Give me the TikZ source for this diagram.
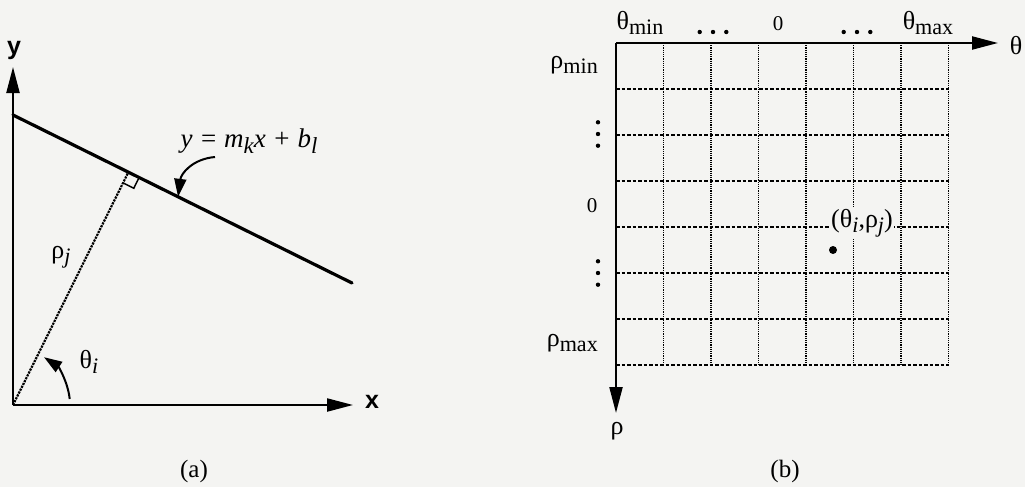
\documentclass[tikz,border=0pt]{standalone}
\usepackage{fontspec}
\setmainfont{Liberation Serif}
\setsansfont{Liberation Sans}
\usetikzlibrary{arrows.meta,calc}
\definecolor{paper}{RGB}{244,244,242}
\newcommand{\lo}[1]{\raisebox{-0.45ex}{\scalebox{0.85}{#1}}}

\begin{document}
\begin{tikzpicture}[x=1pt, y=-1pt,
    axis arrow/.style={-{Triangle[length=26pt, width=13pt]}, line width=2.2pt},
    axis name/.style={font=\fontsize{25}{28}\selectfont\sffamily\bfseries, inner sep=1pt},
    sym label/.style={font=\fontsize{26}{30}\selectfont, inner sep=1pt},
    zero label/.style={font=\fontsize{21}{24}\selectfont, inner sep=1pt},
    caption/.style={font=\fontsize{25}{28}\selectfont},
    pointer/.style={-{Triangle[length=18pt, width=12pt]}, line width=2pt},
    cell v/.style={densely dotted, line width=1.2pt},
    cell h/.style={dash pattern=on 3.5pt off 2pt, line width=1.1pt},
    ellipsis dot/.style={fill, radius=2.2pt},
  ]
  \fill[paper] (0,0) rectangle (1025,487);
  \useasboundingbox (0,0) rectangle (1025,487);

  % (a) the line in the x-y plane
  \coordinate (O) at (13,405);
  \coordinate (ytip) at (13,67);
  \coordinate (xtip) at (353,405);
  \coordinate (lnA) at (13,115);
  \coordinate (lnB) at (352,283);
  \coordinate (F) at ($(lnA)!(O)!(lnB)$);
  \coordinate (sqA) at ($(F)!12pt!(lnB)$);
  \coordinate (sqC) at ($(F)!12pt!(O)$);
  \coordinate (sqB) at ($(sqA)+(sqC)-(F)$);

  \draw[axis arrow] (O) -- (ytip);
  \draw[axis arrow] (O) -- (xtip);
  \node[axis name] (ylab) at (14,50) {y};
  \node[axis name] (xlab) at (372,402) {x};

  \draw[line width=3.2pt, line cap=round] (lnA) -- (lnB);
  \draw[densely dotted, line width=2.2pt] (O) -- (F);
  \draw[line width=1.5pt] (sqA) -- (sqB) -- (sqC);

  \node[sym label] (rho) at (61,257) {ρ\lo{\itshape j}};
  \node[sym label] (theta) at (89,362) {θ\lo{\itshape i}};
  \coordinate (arcS) at (69.7,399);
  \coordinate (arcE) at (44,357.2);
  \draw[pointer] (arcS) .. controls (67.9,381.9) and (58.4,366.6) .. (arcE);

  \node[font=\fontsize{27}{30}\selectfont\itshape] (eq) at (249,141)
    {y = m\lo{k}x + b\lo{l}};
  \coordinate (eqtail) at (215,157);
  \coordinate (eqtip) at ($(lnA)!0.487!(lnB)$);
  \draw[pointer] (eqtail) .. controls (192,159) and (181,174) .. (eqtip);

  \node[caption] (capa) at (194,471) {(a)};

  % (b) the accumulator array
  \coordinate (G) at (616,43);
  \coordinate (thtip) at (998,43);
  \coordinate (rhtip) at (616,413);
  \foreach \i in {1,...,7}
    \draw[cell v] ($(G)+(47.5*\i,0)$) -- ($(G)+(47.5*\i,322)$);
  \foreach \j in {1,...,7}
    \draw[cell h] ($(G)+(0,46*\j)$) -- ($(G)+(332.5,46*\j)$);
  \draw[axis arrow] (G) -- (thtip);
  \draw[axis arrow] (G) -- (rhtip);

  \node[sym label] (thname) at (1016,46) {θ};
  \node[sym label] (rhname) at (617,431) {ρ};

  \node[sym label] (thmin) at (640,23) {θ\lo{min}};
  \node[zero label] (thzero) at (778,24) {0};
  \node[sym label] (thmax) at (928,23) {θ\lo{max}};

  \node[sym label, anchor=east] (rhmin) at (599,65) {ρ\lo{min}};
  \node[zero label] (rhzero) at (592,206) {0};
  \node[sym label, anchor=east] (rhmax) at (599,343) {ρ\lo{max}};

  % the elided columns and rows
  \foreach \d in {-13.3,0,13.3} {
    \fill[ellipsis dot] ($(713,32)+(\d,0)$) circle;
    \fill[ellipsis dot] ($(857,32)+(\d,0)$) circle;
    \fill[ellipsis dot] ($(598,134)+(0,0.88*\d)$) circle;
    \fill[ellipsis dot] ($(598,273)+(0,0.88*\d)$) circle;
  }

  \fill (833,250) circle (4);
  \node[sym label, fill=paper] (cell) at (862,223) {(θ\lo{\itshape i},ρ\lo{\itshape j})};

  \node[caption] (capb) at (785,471) {(b)};
\end{tikzpicture}
\end{document}
